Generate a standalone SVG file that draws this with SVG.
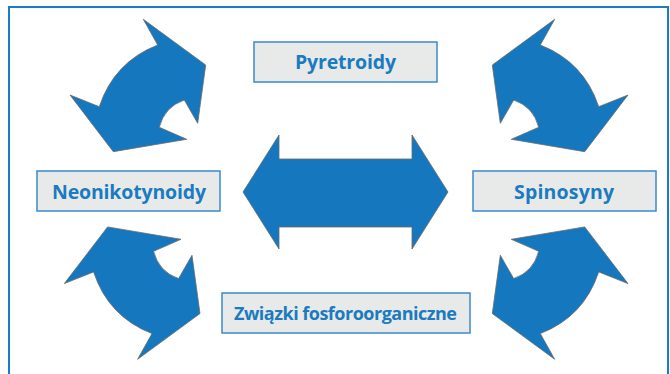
<svg xmlns="http://www.w3.org/2000/svg" width="670" height="374" viewBox="0 0 670 374">
<defs>
<style>
.frame{fill:none;stroke:#1a7cc6;stroke-width:2}
.arr{fill:#1577bd;stroke:#6b6b6b;stroke-width:0.8;stroke-linejoin:miter}
.box{fill:#e8eaea;stroke:#3a8bcb;stroke-width:1.5}
.lbl{font-family:"Open Sans","Noto Sans",sans-serif;font-weight:700;font-size:19.5px;fill:#1a7bc0;text-anchor:middle}
</style>
<path id="curv" d="M143.3,19.3 L205.7,65 L197.7,123.3 L184.3,100 Q164.5,106.8 159.3,127.3 L186.7,139.3 L113.3,151.7 L70,95 L99.3,106.7 Q114,62 157.7,45 Z"/>
</defs>
<rect class="frame" x="9" y="7" width="659" height="420"/>
<g id="connectors">
<use href="#curv" class="arr"/>
<use href="#curv" class="arr" transform="translate(698,0) scale(-1,1)"/>
<use href="#curv" class="arr" transform="translate(-5.7,378.6) scale(1,-1)"/>
<use href="#curv" class="arr" transform="translate(698,378.6) scale(-1,-1)"/>
<path class="arr" d="M243,192 L279,135 L279,159 L412,159 L412,135 L448,192 L412,249 L412,227 L279,227 L279,249 Z"/>
</g>
<g id="pyretroidy">
<rect class="box" x="254" y="42" width="183" height="40"/>
<text class="lbl" x="345.5" y="69" textLength="101">Pyretroidy</text>
</g>
<g id="neonikotynoidy">
<rect class="box" x="37" y="171" width="183" height="40"/>
<text class="lbl" x="129" y="198.5" textLength="154">Neonikotynoidy</text>
</g>
<g id="spinosyny">
<rect class="box" x="473" y="171" width="183" height="40"/>
<text class="lbl" x="564" y="198.5" textLength="100">Spinosyny</text>
</g>
<g id="zwiazki">
<rect class="box" x="222" y="293" width="248" height="40"/>
<text class="lbl" x="345.5" y="319.5" textLength="223" style="font-size:18px">Związki fosforoorganiczne</text>
</g>
</svg>
